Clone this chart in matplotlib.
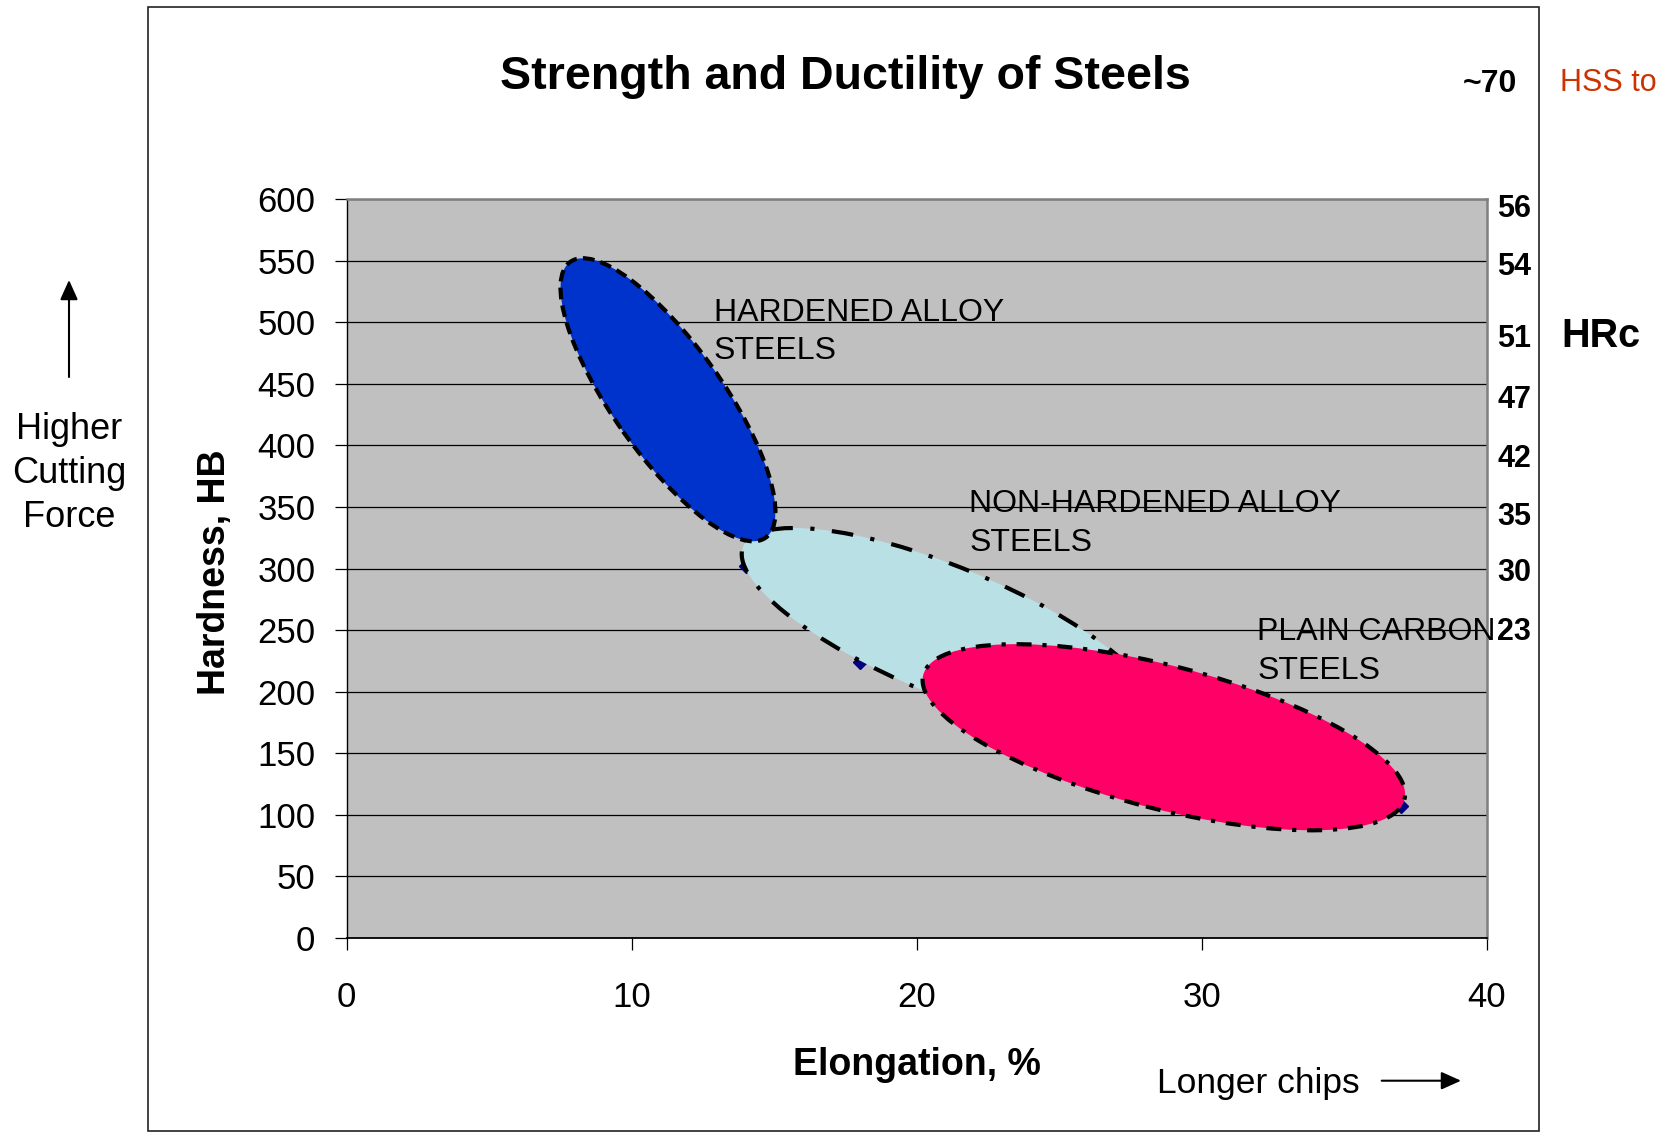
import matplotlib
matplotlib.use("Agg")
import matplotlib.pyplot as plt
from matplotlib.patches import Ellipse, Rectangle, FancyArrowPatch
import matplotlib.transforms as mtransforms

plt.rcParams['font.family'] = ['Liberation Sans', 'DejaVu Sans']

# ---------------- data ----------------
x_ticks = [0, 10, 20, 30, 40]
y_ticks = [0, 50, 100, 150, 200, 250, 300, 350, 400, 450, 500, 550, 600]
hrc_labels = ['56', '54', '51', '47', '42', '35', '30', '23']
hrc_hb_positions = [595, 548, 489, 440, 392, 345, 299, 251]

point_elongation = [14, 18, 37]
point_hardness = [302, 224, 107]

region_names = ['HARDENED ALLOY', 'NON-HARDENED ALLOY', 'PLAIN CARBON']
region_center_elongation = [11.27, 21.09, 28.67]
region_center_hardness = [437, 249, 163]
label_elongation = [12.87, 21.85, 31.95]
label_hardness_line1 = [501, 346, 242]
label_hardness_line2 = [470, 314, 210]

# ---------------- styles ----------------
W, H = 1658, 1134
def fx(x):
    return x / W
def fy(y):
    return 1 - y / H

ell_w = [3.38, 4.43, 4.97]      # inches
ell_h = [1.10, 1.28, 1.43]
ell_ang = [-54.7, -22.5, -14.5]
ell_fc = ['#0033CC', '#B9E0E4', '#FF0066']
ell_ls = [(0, (2.8, 1.5)), (0, (5.2, 4.2, 1.0, 4.2)), (0, (3.6, 2.6, 1.0, 2.6))]
ell_z = [3, 2, 4]

fig = plt.figure(figsize=(W / 100, H / 100), dpi=100)

# outer frame
fig.add_artist(Rectangle((fx(148), fy(1131)), (1539 - 148) / W, (1131 - 7) / H,
                         transform=fig.transFigure, fill=False,
                         edgecolor='#222222', linewidth=1.2))

ax = fig.add_axes([fx(346.8), fy(938), (1486.7 - 346.8) / W, (938 - 199) / H])
ax.set_facecolor('#C0C0C0')
ax.set_xlim(0, 40)
ax.set_ylim(0, 600)
ax.set_xticks(x_ticks)
ax.set_yticks(y_ticks)
ax.set_xticklabels([str(v) for v in x_ticks], fontsize=25)
ax.set_yticklabels([str(v) for v in y_ticks], fontsize=25)
ax.tick_params(axis='x', direction='out', length=8.6, width=0.9, pad=22.5, colors='black')
ax.tick_params(axis='y', direction='out', length=8.6, width=0.9, pad=14, colors='black')
ax.yaxis.grid(True, color='black', linewidth=0.9)
ax.xaxis.grid(False)
ax.set_axisbelow(True)
for s in ['top', 'right']:
    ax.spines[s].set_color('#808080')
    ax.spines[s].set_linewidth(1.8)
ax.spines['left'].set_color('black')
ax.spines['left'].set_linewidth(1.0)
ax.spines['bottom'].set_color('black')
ax.spines['bottom'].set_linewidth(1.3)

# data points
ax.plot(point_elongation, point_hardness, linestyle='none', marker='D',
        markersize=7, color='#000080', zorder=1.5)

# region ellipses
for i in range(3):
    trans = fig.dpi_scale_trans + mtransforms.ScaledTranslation(
        region_center_elongation[i], region_center_hardness[i], ax.transData)
    e = Ellipse((0, 0), ell_w[i], ell_h[i], angle=ell_ang[i], transform=trans,
                facecolor=ell_fc[i], edgecolor='black', linewidth=3.0,
                linestyle=ell_ls[i], zorder=ell_z[i])
    ax.add_patch(e)

# region labels
for i in range(3):
    ax.text(label_elongation[i], label_hardness_line1[i], region_names[i],
            fontsize=23, ha='left', va='baseline', zorder=6)
    ax.text(label_elongation[i], label_hardness_line2[i], 'STEELS',
            fontsize=23, ha='left', va='baseline', zorder=6)

# HRc secondary scale
ax2 = ax.twinx()
ax2.set_ylim(0, 600)
ax2.set_yticks(hrc_hb_positions)
ax2.set_yticklabels(hrc_labels, fontsize=22, fontweight='bold')
ax2.tick_params(axis='y', length=0, pad=7.5)
for s in ax2.spines.values():
    s.set_visible(False)

# axis labels and title
fig.text(fx(916.8), fy(1065), 'Elongation, %', fontsize=27, fontweight='bold',
         ha='center', va='center')
fig.text(fx(215), fy(572), 'Hardness, HB', fontsize=27, fontweight='bold',
         rotation=90, ha='center', va='center')
fig.text(fx(845), fy(89), 'Strength and Ductility of Steels', fontsize=33.5,
         fontweight='bold', ha='center', va='baseline')

fig.text(fx(1517), fy(91.7), '~70', fontsize=23, fontweight='bold',
         ha='right', va='baseline')
fig.text(fx(1560), fy(91), 'HSS to', fontsize=22, color='#CC3300',
         ha='left', va='baseline')
fig.text(fx(1561.7), fy(346.7), 'HRc', fontsize=28.5, fontweight='bold',
         ha='left', va='baseline')

# side notes
for txt, yb in zip(['Higher', 'Cutting', 'Force'], [439, 483, 527]):
    fig.text(fx(69), fy(yb), txt, fontsize=26, ha='center', va='baseline')
fig.add_artist(FancyArrowPatch((fx(69), fy(377)), (fx(69), fy(280)),
                               transform=fig.transFigure,
                               arrowstyle='-|>,head_length=0.6,head_width=0.27',
                               mutation_scale=20, color='black', linewidth=1.5,
                               shrinkA=0, shrinkB=0))
fig.text(fx(1156.7), fy(1093.3), 'Longer chips', fontsize=25.5, ha='left',
         va='baseline')
fig.add_artist(FancyArrowPatch((fx(1381.7), fy(1080.7)), (fx(1461), fy(1080.7)),
                               transform=fig.transFigure,
                               arrowstyle='-|>,head_length=0.6,head_width=0.27',
                               mutation_scale=20, color='black', linewidth=1.5,
                               shrinkA=0, shrinkB=0))

fig.savefig('out.png', dpi=100, facecolor='white')
